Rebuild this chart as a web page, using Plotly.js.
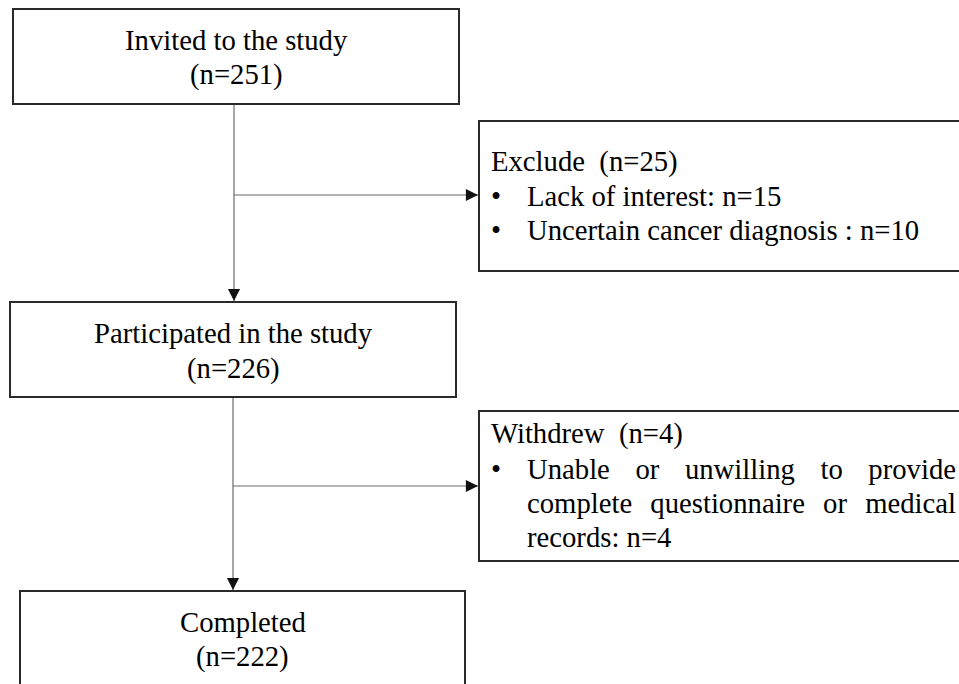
<!DOCTYPE html>
<html>
<head>
<meta charset="utf-8">
<script src="https://cdn.plot.ly/plotly-3.0.1.min.js"></script>
<style>html,body{margin:0;padding:0;background:#fff;}#chart{width:959px;height:684px;}</style>
</head>
<body>
<div id="chart"></div>
<script>
// ---------- data ----------
const stageLabels = ['Invited to the study', 'Participated in the study', 'Completed'];
const stageCounts = [251, 226, 222];
const exitTitles = ['Exclude', 'Withdrew'];
const exitCounts = [25, 4];
const excludeReasons = ['Lack of interest', 'Uncertain cancer diagnosis '];
const excludeReasonCounts = [15, 10];
const withdrewReasonLines = ['Unable or unwilling to provide', 'complete questionnaire or medical', 'records'];
const withdrewReasonCounts = [4];

// ---------- layout (positions in pixel space) ----------
const W = 959, H = 684;
const stageBoxes = [
  {x0: 13, x1: 459, y0: 9, y1: 104, base: [50, 84]},
  {x0: 10, x1: 456, y0: 302, y1: 397, base: [343, 378]},
  {x0: 20, x1: 465, y0: 591, y1: 700, base: [632, 666]}
];
const exitBoxes = [
  {x0: 479, x1: 975, y0: 121, y1: 271, branchY: 195, stemX: 234, base: [171, 206, 240]},
  {x0: 479, x1: 975, y0: 411, y1: 561, branchY: 486, stemX: 233, base: [443, 479, 513, 547]}
];
const FONT = '"Liberation Serif"';
const FS = 28.7;
const TXT = '#000000';
const BOX = '#2a2a2a';
const LINE = '#6a6a6a';
const HEAD = '#111111';
const HEADLEN = 9;
const titleX = 490, bulletX = 490, textX = 526, rightX = 955;
const yOf = b => b - 10;
const countText = n => '(n=' + n + ')';

const shapes = [];
const annotations = [];
const justify = [];

function addText(text, x, baseline, xanchor) {
  annotations.push({
    text: text, x: x, y: yOf(baseline), xref: 'x', yref: 'y',
    xanchor: xanchor, yanchor: 'middle', align: xanchor === 'left' ? 'left' : 'center',
    showarrow: false, font: {family: FONT, size: FS, color: TXT}, borderpad: 0
  });
  return annotations.length - 1;
}
function addConnector(x0, y0, x1, y1) {
  shapes.push({type: 'line', xref: 'x', yref: 'y', x0: x0, y0: y0, x1: x1, y1: y1,
    line: {color: LINE, width: 1.2}});
  const len = Math.hypot(x1 - x0, y1 - y0);
  const ux = (x1 - x0) / len, uy = (y1 - y0) / len;
  annotations.push({
    text: '', x: x1, y: y1, ax: x1 - ux * HEADLEN, ay: y1 - uy * HEADLEN,
    xref: 'x', yref: 'y', axref: 'x', ayref: 'y',
    showarrow: true, arrowhead: 2, arrowsize: 2.2, arrowwidth: 1.1, arrowcolor: HEAD, standoff: 0
  });
}

stageBoxes.forEach((b, i) => {
  shapes.push({type: 'rect', xref: 'x', yref: 'y', x0: b.x0, x1: b.x1, y0: b.y0, y1: b.y1,
    line: {color: BOX, width: 2}, fillcolor: 'rgba(0,0,0,0)'});
  const cx = (b.x0 + b.x1) / 2;
  addText(stageLabels[i], cx, b.base[0], 'center');
  addText(countText(stageCounts[i]), cx, b.base[1], 'center');
});

for (let i = 0; i < stageBoxes.length - 1; i++) {
  const a = stageBoxes[i], n = stageBoxes[i + 1];
  const x = exitBoxes[i].stemX;
  addConnector(x, a.y1 + 1, x, n.y0 - 1);
}

exitBoxes.forEach((b, i) => {
  shapes.push({type: 'rect', xref: 'x', yref: 'y', x0: b.x0, x1: b.x1, y0: b.y0, y1: b.y1,
    line: {color: BOX, width: 2}, fillcolor: 'rgba(0,0,0,0)'});
  addConnector(b.stemX, b.branchY, b.x0 - 1, b.branchY);
  addText(exitTitles[i] + '\u2002' + countText(exitCounts[i]), titleX, b.base[0], 'left');
});

excludeReasons.forEach((r, j) => {
  const base = exitBoxes[0].base[j + 1];
  addText('•', bulletX, base, 'left');
  addText(r + ': n=' + excludeReasonCounts[j], textX, base, 'left');
});

withdrewReasonLines.forEach((r, j) => {
  const base = exitBoxes[1].base[j + 1];
  if (j === 0) addText('•', bulletX, base, 'left');
  const last = j === withdrewReasonLines.length - 1;
  const idx = addText(last ? r + ': n=' + withdrewReasonCounts[0] : r, textX, base, 'left');
  if (!last) justify.push(idx);
});

const layout = {
  width: W, height: H, margin: {l: 0, r: 0, t: 0, b: 0},
  paper_bgcolor: '#ffffff', plot_bgcolor: '#ffffff', showlegend: false,
  font: {family: FONT},
  xaxis: {range: [0, W], visible: false, fixedrange: true},
  yaxis: {range: [H, 0], visible: false, fixedrange: true},
  shapes: shapes, annotations: annotations
};

Plotly.newPlot('chart', [], layout, {staticPlot: true, displayModeBar: false}).then(gd => {
  const groups = gd.querySelectorAll('.annotation');
  justify.forEach(idx => {
    const g = groups[idx];
    if (!g) return;
    const t = g.querySelector('text.annotation-text');
    if (!t) return;
    const content = t.textContent;
    const gaps = (content.match(/ /g) || []).length;
    const box0 = t.getBBox();
    const len = t.getComputedTextLength();
    const target = rightX - textX;
    if (gaps > 0 && len < target) {
      t.style.wordSpacing = ((target - len) / gaps) + 'px';
      const box1 = t.getBBox();
      const dx = box0.x - box1.x;
      const curX = parseFloat(t.getAttribute('x')) || 0;
      t.setAttribute('x', curX + dx);
      t.querySelectorAll('tspan[x]').forEach(s => {
        s.setAttribute('x', (parseFloat(s.getAttribute('x')) || 0) + dx);
      });
    }
  });
});
</script>
</body>
</html>
